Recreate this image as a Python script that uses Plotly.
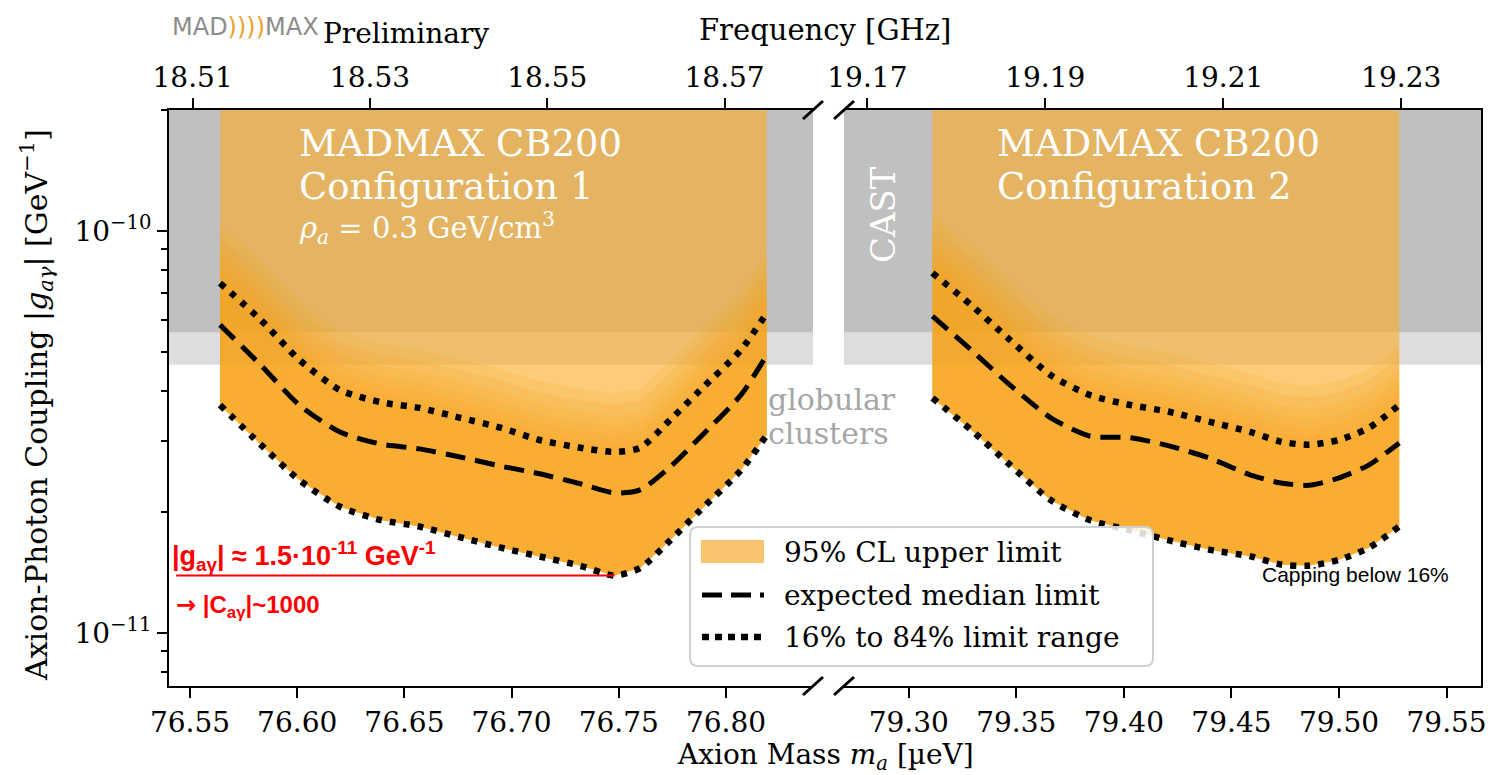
import plotly.graph_objects as go

W, H = 1490, 775
SERIF = "DejaVu Serif"
SANS = "Liberation Sans"
GHZ_PER_UEV = 0.2417989

# ---------------- data ----------------
# Configuration 1 (left panel)
mass1 = [76.564, 76.583, 76.601, 76.620, 76.639, 76.657, 76.676, 76.695,
         76.713, 76.732, 76.748, 76.760, 76.774, 76.788, 76.807, 76.819]
up1 = [7.42e-11, 6.01e-11, 4.78e-11, 4.02e-11, 3.75e-11, 3.63e-11, 3.43e-11, 3.24e-11,
       3.02e-11, 2.89e-11, 2.82e-11, 2.89e-11, 3.39e-11, 4.02e-11, 5.06e-11, 6.25e-11]
med1 = [5.84e-11, 4.64e-11, 3.69e-11, 3.16e-11, 2.95e-11, 2.87e-11, 2.74e-11, 2.60e-11,
        2.49e-11, 2.35e-11, 2.23e-11, 2.27e-11, 2.59e-11, 3.07e-11, 3.91e-11, 4.91e-11]
lo1 = [3.69e-11, 2.94e-11, 2.40e-11, 2.06e-11, 1.91e-11, 1.84e-11, 1.73e-11, 1.63e-11,
       1.55e-11, 1.47e-11, 1.39e-11, 1.45e-11, 1.70e-11, 2.02e-11, 2.54e-11, 3.11e-11]

# Configuration 2 (right panel)
mass2 = [79.311, 79.329, 79.347, 79.366, 79.384, 79.403, 79.421, 79.440,
         79.459, 79.473, 79.486, 79.500, 79.514, 79.528]
up2 = [7.86e-11, 6.54e-11, 5.36e-11, 4.38e-11, 3.91e-11, 3.69e-11, 3.55e-11, 3.35e-11,
       3.16e-11, 2.99e-11, 2.94e-11, 3.02e-11, 3.24e-11, 3.69e-11]
med2 = [6.14e-11, 5.06e-11, 4.14e-11, 3.43e-11, 3.09e-11, 3.06e-11, 2.92e-11, 2.72e-11,
        2.47e-11, 2.36e-11, 2.33e-11, 2.43e-11, 2.62e-11, 2.97e-11]
lo2 = [3.84e-11, 3.20e-11, 2.62e-11, 2.14e-11, 1.91e-11, 1.80e-11, 1.70e-11, 1.61e-11,
       1.55e-11, 1.48e-11, 1.47e-11, 1.52e-11, 1.63e-11, 1.84e-11]

# exclusion limits
CAST_LIMIT = 5.6e-11
GC_LIMIT = 4.65e-11
G_TOP = 5e-10

# axis ranges / ticks
xr1 = [76.5402, 76.8406]
xr2 = [79.2699, 79.5660]
yr_log = [-11.132, -9.699]
xt1 = [76.55, 76.60, 76.65, 76.70, 76.75, 76.80]
xt2 = [79.30, 79.35, 79.40, 79.45, 79.50, 79.55]
ft1 = [18.51, 18.53, 18.55, 18.57]
ft2 = [19.17, 19.19, 19.21, 19.23]
y_major = [1e-11, 1e-10]
y_major_text = ["10<sup>\u221211</sup>", "10<sup>\u221210</sup>"]
y_minor = [8e-12, 9e-12] + [k * 1e-11 for k in range(2, 10)] + [2e-10]
RED_X0 = 76.5435

# ---------------- figure ----------------
fig = go.Figure()
panels = [("x", "y", mass1, up1, med1, lo1, xr1), ("x2", "y2", mass2, up2, med2, lo2, xr2)]

ORANGE_BASE = "rgba(250,172,40,0.62)"
ORANGE_LAYER = "rgba(245,158,22,0.15)"

for xa, ya, m, up, med, lo, xr in panels:
    # exclusion bands
    fig.add_trace(go.Scatter(x=[xr[0], xr[1], xr[1], xr[0]], y=[GC_LIMIT, GC_LIMIT, G_TOP, G_TOP],
                             fill="toself", fillcolor="#dddddd", line=dict(width=0), mode="lines",
                             xaxis=xa, yaxis=ya, showlegend=False, hoverinfo="skip"))
    fig.add_trace(go.Scatter(x=[xr[0], xr[1], xr[1], xr[0]], y=[CAST_LIMIT, CAST_LIMIT, G_TOP, G_TOP],
                             fill="toself", fillcolor="#c0c0c0", line=dict(width=0), mode="lines",
                             xaxis=xa, yaxis=ya, showlegend=False, hoverinfo="skip"))
    # excluded region (95% CL upper limit), capped at 16%
    fig.add_trace(go.Scatter(x=m + m[::-1], y=lo + [G_TOP] * len(m), fill="toself",
                             fillcolor=ORANGE_BASE, line=dict(width=0), mode="lines",
                             xaxis=xa, yaxis=ya, showlegend=False, hoverinfo="skip"))
    for f in [1.0, 1.05, 1.1, 1.16, 1.23, 1.31, 1.4]:
        fig.add_trace(go.Scatter(x=m + m[::-1], y=lo + [v * f for v in up[::-1]], fill="toself",
                                 fillcolor=ORANGE_LAYER, line=dict(width=0), mode="lines",
                                 xaxis=xa, yaxis=ya, showlegend=False, hoverinfo="skip"))
    # expected median and 16-84% range
    fig.add_trace(go.Scatter(x=m, y=med, mode="lines", xaxis=xa, yaxis=ya, showlegend=False,
                             line=dict(color="black", width=5, dash="20px,10px", shape="spline", smoothing=0.7)))
    for band in (up, lo):
        fig.add_trace(go.Scatter(x=m, y=band, mode="lines", xaxis=xa, yaxis=ya, showlegend=False,
                                 line=dict(color="black", width=6.5, dash="6px,8px", shape="spline", smoothing=0.7)))

# red reference line at the best sensitivity
i_min = lo1.index(min(lo1))
fig.add_trace(go.Scatter(x=[RED_X0, mass1[i_min]], y=[lo1[i_min]] * 2, mode="lines",
                         line=dict(color="#ff0000", width=2), xaxis="x", yaxis="y",
                         showlegend=False, hoverinfo="skip"))

# invisible traces to activate the frequency axes
fig.add_trace(go.Scatter(x=[v * GHZ_PER_UEV for v in xr1], y=[None, None], xaxis="x3", yaxis="y",
                         showlegend=False, hoverinfo="skip"))
fig.add_trace(go.Scatter(x=[v * GHZ_PER_UEV for v in xr2], y=[None, None], xaxis="x4", yaxis="y2",
                         showlegend=False, hoverinfo="skip"))

px = lambda p: p / W
py = lambda p: 1 - p / H

L1, R1, L2, R2, TOP, BOT = 169, 813, 844, 1481, 110, 686
tickfont = dict(family=SERIF, size=28, color="black")

xcommon = dict(showline=True, linecolor="black", linewidth=2, ticks="outside", ticklen=10,
               tickwidth=2, tickcolor="black", tickfont=tickfont, showgrid=False, zeroline=False,
               tickformat=".2f", automargin=False)
fig.update_layout(
    xaxis=dict(domain=[px(L1), px(R1)], range=xr1, tickvals=xt1, anchor="y", **xcommon),
    xaxis2=dict(domain=[px(L2), px(R2)], range=xr2, tickvals=xt2, anchor="y2", **xcommon),
    xaxis3=dict(overlaying="x", side="top", anchor="y", range=[v * GHZ_PER_UEV for v in xr1],
                tickvals=ft1, **xcommon),
    xaxis4=dict(overlaying="x2", side="top", anchor="y2", range=[v * GHZ_PER_UEV for v in xr2],
                tickvals=ft2, **xcommon),
    yaxis=dict(domain=[py(BOT), py(TOP)], type="log", range=yr_log, anchor="x",
               tickvals=y_major, ticktext=y_major_text, showline=True, linecolor="black",
               linewidth=2, ticks="outside", ticklen=10, tickwidth=2, tickcolor="black",
               tickfont=tickfont, showgrid=False, zeroline=False, automargin=False,
               minor=dict(tickvals=y_minor, ticks="outside", ticklen=6, tickwidth=1.5,
                          tickcolor="black", showgrid=False)),
    yaxis2=dict(domain=[py(BOT), py(TOP)], type="log", range=yr_log, anchor="x2", side="right",
                showline=True, linecolor="black", linewidth=2, ticks="", showticklabels=False,
                showgrid=False, zeroline=False, automargin=False),
    width=W, height=H, margin=dict(l=0, r=0, t=0, b=0, autoexpand=False),
    plot_bgcolor="white", paper_bgcolor="white", showlegend=False,
)

ann = []
def text(t, x, y, size, color="black", family=SERIF, xa="left", ya="middle", angle=0):
    ann.append(dict(text=t, x=px(x), y=py(y), xref="paper", yref="paper", xanchor=xa, yanchor=ya,
                    showarrow=False, textangle=angle, font=dict(family=family, size=size, color=color)))

# axis titles
text("Axion Mass <i>m<sub>a</sub></i> [\u00b5eV]", 825, 756, 28, xa="center")
text("Frequency [GHz]", 825, 30, 29, xa="center")
text("Axion-Photon Coupling |<i>g<sub>a\u03b3</sub></i>| [GeV<sup>\u22121</sup>]", 36, 405, 30,
     xa="center", angle=-90)
# header
text("<span style='color:#8c8c8c'>MAD</span><span style='color:#f0a030'>))))</span>"
     "<span style='color:#8c8c8c'>MAX</span>", 170, 27, 24, family="DejaVu Sans")
text("Preliminary", 321, 34, 28)
# panel labels
text("MADMAX CB200", 297, 143, 37, color="white")
text("Configuration 1", 297, 186, 37, color="white")
text("<i>\u03c1<sub>a</sub></i> = 0.3 GeV/cm<sup>3</sup>", 297, 228, 29, color="white")
text("MADMAX CB200", 995, 143, 37, color="white")
text("Configuration 2", 995, 186, 37, color="white")
text("CAST", 883, 215, 34, color="white", xa="center", angle=-90)
text("globular", 766, 399, 30, color="#a6a6a6")
text("clusters", 766, 433, 30, color="#a6a6a6")
# red annotation
text("<b>|g<sub>a\u03b3</sub>| \u2248 1.5\u00b710<sup>-11</sup> GeV<sup>-1</sup></b>", 170, 556, 27,
     color="#ff0000", family=SANS)
text("<b><span style='font-family:DejaVu Sans'>\u2192</span> |C<sub>a\u03b3</sub>|~1000</b>", 174, 606, 24,
     color="#ff0000", family=SANS)
text("Capping below 16%", 1260, 574, 21, family=SANS)

# legend (manual)
LX0, LX1, LY0, LY1 = 690, 1153, 527, 666
text("95% CL upper limit", 782, 552, 28)
text("expected median limit", 782, 595, 28)
text("16% to 84% limit range", 782, 637, 28)
fig.update_layout(annotations=ann)

shapes = []
r = 8
path = (f"M {px(LX0 + r)},{py(LY0)} L {px(LX1 - r)},{py(LY0)} Q {px(LX1)},{py(LY0)} {px(LX1)},{py(LY0 + r)} "
        f"L {px(LX1)},{py(LY1 - r)} Q {px(LX1)},{py(LY1)} {px(LX1 - r)},{py(LY1)} "
        f"L {px(LX0 + r)},{py(LY1)} Q {px(LX0)},{py(LY1)} {px(LX0)},{py(LY1 - r)} "
        f"L {px(LX0)},{py(LY0 + r)} Q {px(LX0)},{py(LY0)} {px(LX0 + r)},{py(LY0)} Z")
shapes.append(dict(type="path", path=path, xref="paper", yref="paper", fillcolor="rgba(255,255,255,0.85)",
                   line=dict(color="#d0d0d0", width=2), layer="above"))
shapes.append(dict(type="rect", xref="paper", yref="paper", x0=px(701), x1=px(764), y0=py(563), y1=py(540),
                   fillcolor="#fac36e", line=dict(width=0), layer="above"))
shapes.append(dict(type="line", xref="paper", yref="paper", x0=px(702), x1=px(764), y0=py(595), y1=py(595),
                   line=dict(color="black", width=5, dash="20px,9px"), layer="above"))
shapes.append(dict(type="line", xref="paper", yref="paper", x0=px(702), x1=px(764), y0=py(637), y1=py(637),
                   line=dict(color="black", width=6.5, dash="7px,6px"), layer="above"))
# axis break marks
for yb in (TOP, BOT):
    for xb in (R1, L2):
        shapes.append(dict(type="line", xref="paper", yref="paper", x0=px(xb - 10), x1=px(xb + 10),
                           y0=py(yb + 9), y1=py(yb - 9), line=dict(color="black", width=3), layer="above"))
fig.update_layout(shapes=shapes)

fig.write_html("out.html")
